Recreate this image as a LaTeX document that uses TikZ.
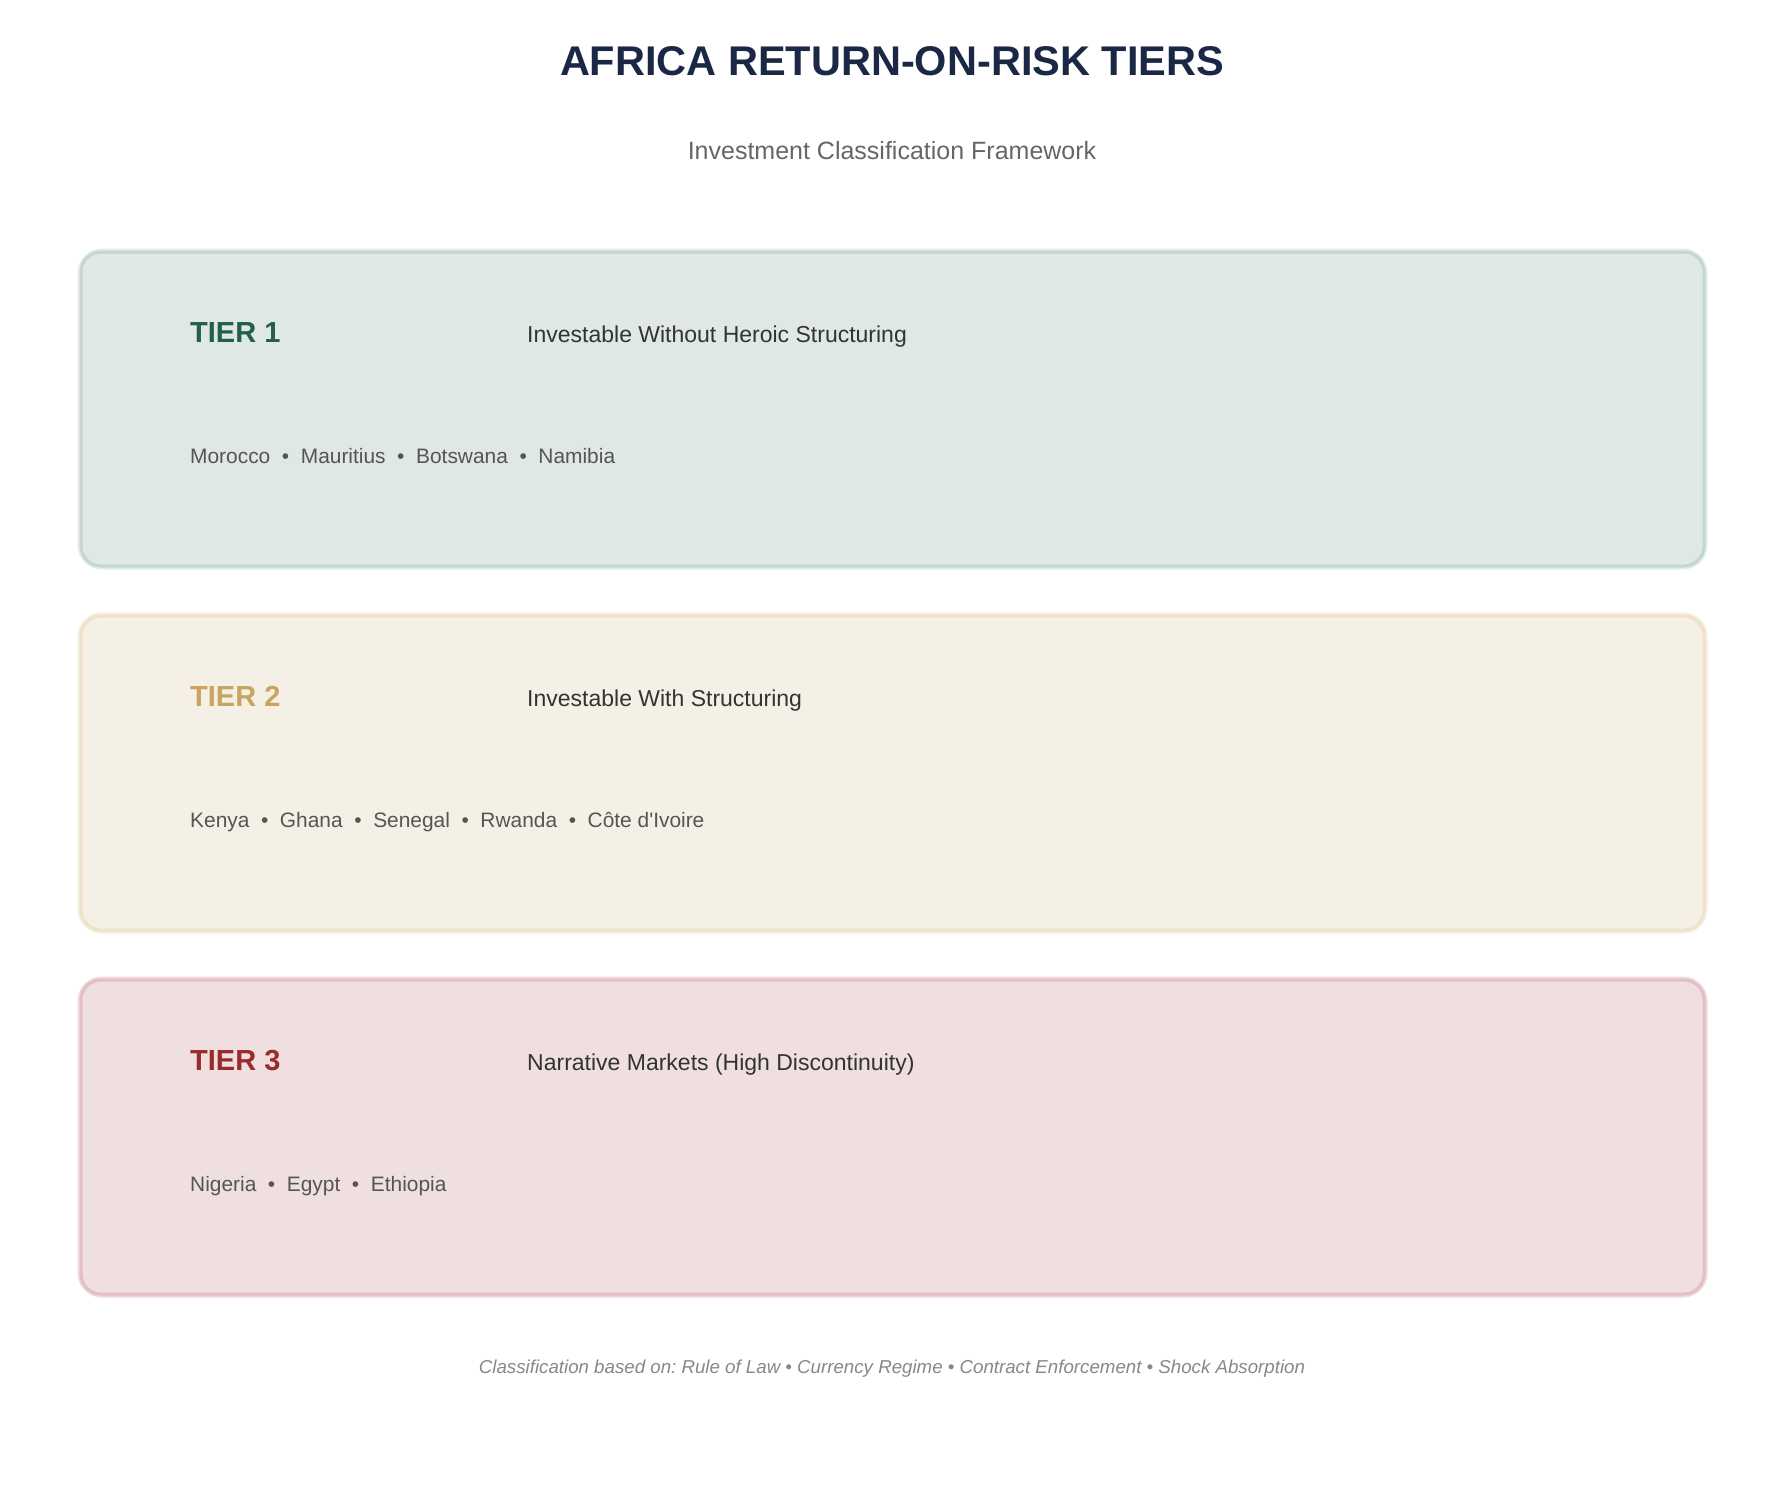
\documentclass[tikz,border=0pt]{standalone}
\usepackage{fontspec}
\setmainfont{Liberation Sans}[Ligatures=TeXOff]
\frenchspacing
\definecolor{titlecol}{HTML}{1B2845}
\definecolor{subcol}{HTML}{666666}
\definecolor{headcol}{HTML}{333333}
\definecolor{countrycol}{HTML}{555555}
\definecolor{footcol}{HTML}{888888}
\definecolor{gAfill}{HTML}{DFE8E3}
\definecolor{gAline}{HTML}{C3D7CE}
\definecolor{gAhalo}{HTML}{E3EDE8}
\definecolor{gAtext}{HTML}{23604A}
\definecolor{gBfill}{HTML}{F5F0E6}
\definecolor{gBline}{HTML}{EEE2CB}
\definecolor{gBhalo}{HTML}{F5EEE0}
\definecolor{gBtext}{HTML}{C9A45F}
\definecolor{gCfill}{HTML}{EFDFE0}
\definecolor{gCline}{HTML}{E2BFC2}
\definecolor{gChalo}{HTML}{EFDADC}
\definecolor{gCtext}{HTML}{9B2A2D}
\tikzset{
  halo/.style={line width=7pt, rounded corners=21pt},
  tierbox/.style={line width=3pt, rounded corners=20pt},
  titletext/.style={anchor=base, inner sep=0pt, text=titlecol, font=\fontsize{41.5}{50}\selectfont\bfseries},
  subtext/.style={anchor=base, inner sep=0pt, text=subcol, font=\fontsize{25}{30}\selectfont},
  tiertext/.style={anchor=base west, inner sep=0pt, font=\fontsize{29}{35}\selectfont\bfseries},
  headtext/.style={anchor=base west, inner sep=0pt, text=headcol, font=\fontsize{23}{28}\selectfont},
  countrytext/.style={anchor=base west, inner sep=0pt, text=countrycol, font=\fontsize{20.9}{26}\selectfont},
  foottext/.style={anchor=base, inner sep=0pt, text=footcol, font=\fontsize{18.7}{23}\selectfont\itshape}
}
\newcommand{\sep}{\ \ •\ \ }
\begin{document}
\begin{tikzpicture}[x=1pt,y=-1pt]
\useasboundingbox[fill=white] (0,0) rectangle (1785,1485);
\node[titletext] (title) at (892,76) {AFRICA RETURN-ON-RISK TIERS};
\node[subtext] (subtitle) at (892,160) {Investment Classification Framework};
% Tier 1
\draw[halo, draw=gAhalo] (81,252) rectangle (1704,566);
\draw[tierbox, draw=gAline, fill=gAfill] (81,252) rectangle (1704,566);
\node[tiertext, text=gAtext] (t1) at (190,342) {TIER 1};
\node[headtext] (h1) at (527,342) {Investable Without Heroic Structuring};
\node[countrytext] (c1) at (190,463.5) {Morocco\sep Mauritius\sep Botswana\sep Namibia};
% Tier 2
\draw[halo, draw=gBhalo] (81,616) rectangle (1704,930);
\draw[tierbox, draw=gBline, fill=gBfill] (81,616) rectangle (1704,930);
\node[tiertext, text=gBtext] (t2) at (190,706) {TIER 2};
\node[headtext] (h2) at (527,706) {Investable With Structuring};
\node[countrytext] (c2) at (190,827.5) {Kenya\sep Ghana\sep Senegal\sep Rwanda\sep Côte d'Ivoire};
% Tier 3
\draw[halo, draw=gChalo] (81,980) rectangle (1704,1294);
\draw[tierbox, draw=gCline, fill=gCfill] (81,980) rectangle (1704,1294);
\node[tiertext, text=gCtext] (t3) at (190,1070) {TIER 3};
\node[headtext] (h3) at (527,1070) {Narrative Markets (High Discontinuity)};
\node[countrytext] (c3) at (190,1191.5) {Nigeria\sep Egypt\sep Ethiopia};
% Footer
\node[foottext] (foot) at (892,1373) {Classification based on: Rule of Law • Currency Regime • Contract Enforcement • Shock Absorption};
\end{tikzpicture}
\end{document}
